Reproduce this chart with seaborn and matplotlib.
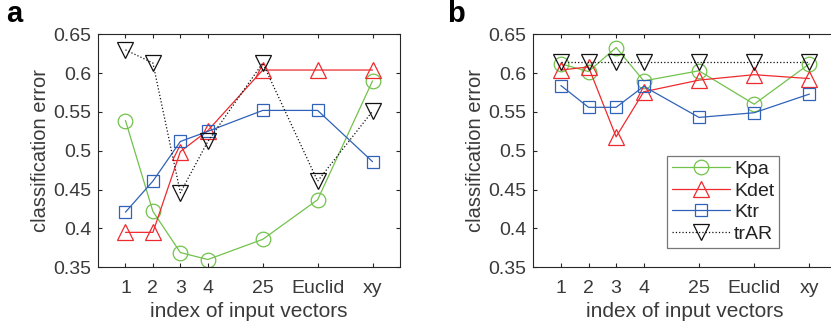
import numpy as np
import pandas as pd
import matplotlib
matplotlib.use("Agg")
import matplotlib.pyplot as plt
import seaborn as sns

categories = ["1", "2", "3", "4", "25", "Euclid", "xy"]
positions = [1, 2, 3, 4, 6, 8, 10]

a_Kpa = [0.539, 0.422, 0.369, 0.360, 0.386, 0.437, 0.590]
a_Kdet = [0.395, 0.395, 0.499, 0.526, 0.604, 0.604, 0.604]
a_Ktr = [0.421, 0.461, 0.512, 0.525, 0.552, 0.552, 0.486]
a_trAR = [0.630, 0.613, 0.446, 0.512, 0.613, 0.461, 0.551]

b_Kpa = [0.612, 0.602, 0.633, 0.590, 0.603, 0.560, 0.612]
b_Kdet = [0.604, 0.608, 0.518, 0.576, 0.591, 0.598, 0.593]
b_Ktr = [0.584, 0.556, 0.556, 0.583, 0.543, 0.549, 0.573]
b_trAR = [0.614, 0.614, 0.614, 0.614, 0.614, 0.614, 0.614]

series_names = ["Kpa", "Kdet", "Ktr", "trAR"]
colors = {"Kpa": "#72C24C", "Kdet": "#EE2A2E", "Ktr": "#2F62B8", "trAR": "#111111"}
markers = {"Kpa": "o", "Kdet": "^", "Ktr": "s", "trAR": "v"}
msizes = {"Kpa": 10.5, "Kdet": 12, "Ktr": 8.5, "trAR": 12}
lstyles = {"Kpa": "-", "Kdet": "-", "Ktr": "-", "trAR": ":"}

sns.set_theme(style="white")
plt.rcParams["font.family"] = ["Liberation Sans", "DejaVu Sans"]
txt = "#3a3a3a"

fig = plt.figure(figsize=(8.31, 3.29), dpi=100)
ax_a = fig.add_axes([98 / 831, 1 - 267.3 / 329, 302 / 831, 233 / 329])
ax_b = fig.add_axes([533.3 / 831, 1 - 267.3 / 329, 303.7 / 831, 233 / 329])

def draw(ax, vals):
    rows = []
    for name, v in zip(series_names, vals):
        for p, y in zip(positions, v):
            rows.append({"x": p, "y": y, "series": name})
    df = pd.DataFrame(rows)
    for name in series_names:
        sub = df[df["series"] == name]
        sns.lineplot(data=sub, x="x", y="y", ax=ax, color=colors[name],
                     linestyle=lstyles[name], linewidth=0.9, marker=markers[name],
                     markersize=msizes[name], markerfacecolor="none",
                     markeredgecolor=colors[name], markeredgewidth=0.9,
                     label=name, legend=False, estimator=None, sort=False)
    ax.set_xlim(0, 11)
    ax.set_ylim(0.35, 0.65)
    ax.set_xticks(positions)
    ax.set_xticklabels(categories)
    ax.set_yticks([0.35, 0.4, 0.45, 0.5, 0.55, 0.6, 0.65])
    ax.set_yticklabels(["0.35", "0.4", "0.45", "0.5", "0.55", "0.6", "0.65"])
    ax.set_xlabel("index of input vectors", fontsize=15, color=txt, labelpad=4)
    ax.set_ylabel("classification error", fontsize=14.5, color=txt, labelpad=2)
    ax.tick_params(direction="in", length=3, width=0.8, color="#262626",
                   labelsize=14, labelcolor=txt, top=True, right=True,
                   bottom=True, left=True)
    ax.tick_params(axis="x", pad=9)
    ax.tick_params(axis="y", pad=5)
    for s in ax.spines.values():
        s.set_color("#262626")
        s.set_linewidth(0.8)
        s.set_visible(True)

draw(ax_a, [a_Kpa, a_Kdet, a_Ktr, a_trAR])
draw(ax_b, [b_Kpa, b_Kdet, b_Ktr, b_trAR])

fig.text(6 / 831, 1 - 0 / 329, "a", fontsize=21, fontweight="bold", va="top", ha="left", color="black")
fig.text(447 / 831, 1 - 0 / 329, "b", fontsize=21, fontweight="bold", va="top", ha="left", color="black")

leg = ax_b.legend(loc="upper left", bbox_to_anchor=(0.44, 0.479), fontsize=14,
                  frameon=True, fancybox=False, handlelength=3.0, handletextpad=0.2,
                  borderpad=0.25, labelspacing=0.2, borderaxespad=0)
leg.get_frame().set_edgecolor("#555555")
leg.get_frame().set_linewidth(0.9)
for t in leg.get_texts():
    t.set_color("#222222")

fig.savefig("out.png", dpi=100)
